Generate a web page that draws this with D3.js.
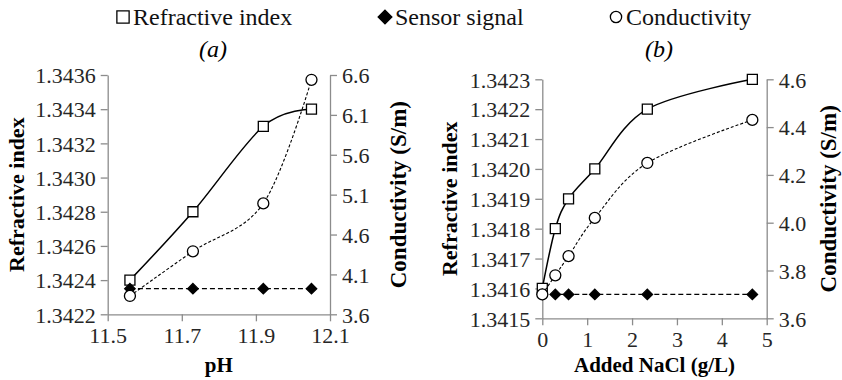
<!DOCTYPE html>
<html>
<head>
<meta charset="utf-8">
<script src="https://cdn.jsdelivr.net/npm/d3@7"></script>
<style>
  html, body { margin: 0; padding: 0; background: #fff; }
  #figure text { font-family: "Times New Roman", "Liberation Serif", serif !important; }
</style>
</head>
<body>
<svg id="figure" width="842" height="380" font-family="Times New Roman, Liberation Serif, serif"></svg>
<script>
// Panel (a): effect of pH
const phValues = [11.56, 11.73, 11.92, 12.05];
const phRefractive = [1.3424, 1.3428, 1.3433, 1.3434];
const phSensor = [1.34235, 1.34235, 1.34235, 1.34235];
const phConductivity = [3.83, 4.39, 4.99, 6.54];
const phTicks = [11.5, 11.7, 11.9, 12.1];
const phRiTicks = [1.3422, 1.3424, 1.3426, 1.3428, 1.3430, 1.3432, 1.3434, 1.3436];
const phCondTicks = [3.6, 4.1, 4.6, 5.1, 5.6, 6.1, 6.6];

// Panel (b): effect of added NaCl
const naclValues = [0, 0.29, 0.585, 1.17, 2.34, 4.68];
const naclRefractive = [1.3416, 1.3418, 1.3419, 1.3420, 1.3422, 1.3423];
const naclSensor = [1.34158, 1.34158, 1.34158, 1.34158, 1.34158, 1.34158];
const naclConductivity = [3.70, 3.78, 3.86, 4.02, 4.25, 4.43];
const naclTicks = [0, 1, 2, 3, 4, 5];
const naclRiTicks = [1.3415, 1.3416, 1.3417, 1.3418, 1.3419, 1.3420, 1.3421, 1.3422, 1.3423];
const naclCondTicks = [3.6, 3.8, 4.0, 4.2, 4.4, 4.6];

const seriesNames = ["Refractive index", "Sensor signal", "Conductivity"];

const FONT = "Times New Roman";
const AXIS_GREY = "#8c8c8c";

const svg = d3.select("#figure");
const smooth = d3.curveCardinal.tension(0);

function symbolPath(kind, size) {
  if (kind === "square") return d3.symbol(d3.symbolSquare, size)();
  if (kind === "diamond") return d3.symbol(d3.symbolDiamond2, size)();
  return d3.symbol(d3.symbolCircle, size)();
}

function styleAxis(sel, dy) {
  sel.attr("font-family", FONT).attr("font-size", 22);
  sel.selectAll(".domain").attr("stroke", AXIS_GREY).attr("stroke-width", 1.3);
  sel.selectAll(".tick line").attr("stroke", AXIS_GREY).attr("stroke-width", 1.3);
  sel.selectAll(".tick text").attr("fill", "#262626").attr("dy", dy)
    .attr("font-family", FONT).attr("font-size", 22);
}

function addText(parent, size, weight, styleName) {
  return parent.append("text")
    .attr("font-family", FONT)
    .attr("font-size", size)
    .attr("font-weight", weight || "normal")
    .attr("font-style", styleName || "normal");
}

function drawPanel(cfg) {
  const g = svg.append("g");
  const x = d3.scaleLinear().domain(cfg.xDomain).range([cfg.left, cfg.right]);
  const yL = d3.scaleLinear().domain(cfg.riDomain).range([cfg.bottom, cfg.top]);
  const yR = d3.scaleLinear().domain(cfg.condDomain).range([cfg.bottom, cfg.top]);

  // axes
  g.append("g")
    .attr("transform", `translate(0,${cfg.bottom})`)
    .call(d3.axisBottom(x).tickValues(cfg.xTicks).tickSize(7).tickSizeOuter(0)
      .tickPadding(6).tickFormat(cfg.xFormat))
    .call(styleAxis, "0.71em");
  g.append("g")
    .attr("transform", `translate(${cfg.left},0)`)
    .call(d3.axisLeft(yL).tickValues(cfg.riTicks).tickSize(7).tickSizeOuter(0)
      .tickPadding(5).tickFormat(d3.format(".4f")))
    .call(styleAxis, "0.35em");
  g.append("g")
    .attr("transform", `translate(${cfg.right},0)`)
    .call(d3.axisRight(yR).tickValues(cfg.condTicks).tickSize(7).tickSizeOuter(0)
      .tickPadding(5).tickFormat(d3.format(".1f")))
    .call(styleAxis, "0.35em");

  // axis titles
  addText(g, 21, "bold").attr("x", (cfg.left + cfg.right) / 2).attr("y", 372)
    .attr("text-anchor", "middle").text(cfg.xTitle);
  addText(g, 22, "bold")
    .attr("transform", `translate(${cfg.leftTitleX},${(cfg.top + cfg.bottom) / 2}) rotate(-90)`)
    .attr("text-anchor", "middle").text("Refractive index");
  addText(g, 23, "bold")
    .attr("transform", `translate(${cfg.rightTitleX},${(cfg.top + cfg.bottom) / 2}) rotate(-90)`)
    .attr("text-anchor", "middle").text("Conductivity (S/m)");

  // panel label
  addText(g, 24, "normal", "italic").attr("x", cfg.labelX).attr("y", 57)
    .attr("text-anchor", "middle").text(cfg.label);

  const series = [
    { ys: cfg.ri, scale: yL, dash: null, width: 1.5, kind: "square", fill: "#fff", size: 100 },
    { ys: cfg.sensor, scale: yL, dash: "5,3", width: 1.2, kind: "diamond", fill: "#000", size: 70 },
    { ys: cfg.cond, scale: yR, dash: "3,2", width: 1.1, kind: "circle", fill: "#fff", size: 95 }
  ];
  series.forEach(s => {
    const pts = cfg.xs.map((v, i) => [x(v), s.scale(s.ys[i])]);
    g.append("path")
      .attr("d", d3.line().curve(s.kind === "diamond" ? d3.curveLinear : smooth)(pts))
      .attr("fill", "none").attr("stroke", "#000").attr("stroke-width", s.width)
      .attr("stroke-dasharray", s.dash);
    g.selectAll(null).data(pts).join("path")
      .attr("transform", d => `translate(${d[0]},${d[1]})`)
      .attr("d", symbolPath(s.kind, s.size))
      .attr("fill", s.fill).attr("stroke", "#000").attr("stroke-width", 1.3);
  });
}

drawPanel({
  xs: phValues, ri: phRefractive, sensor: phSensor, cond: phConductivity,
  xDomain: [11.5, 12.1], riDomain: [1.3422, 1.3436], condDomain: [3.6, 6.6],
  xTicks: phTicks, riTicks: phRiTicks, condTicks: phCondTicks,
  xFormat: d3.format(".1f"),
  left: 107.7, right: 330, top: 75, bottom: 314.3,
  leftTitleX: 24, rightTitleX: 406, labelX: 213, label: "(a)", xTitle: "pH"
});

drawPanel({
  xs: naclValues, ri: naclRefractive, sensor: naclSensor, cond: naclConductivity,
  xDomain: [0, 5], riDomain: [1.3415, 1.3423], condDomain: [3.6, 4.6],
  xTicks: naclTicks, riTicks: naclRiTicks, condTicks: naclCondTicks,
  xFormat: d3.format("d"),
  left: 542.3, right: 766.7, top: 79.3, bottom: 318.3,
  leftTitleX: 457, rightTitleX: 836, labelX: 659, label: "(b)", xTitle: "Added NaCl (g/L)"
});

// legend
const legend = svg.append("g");
const legendItems = [
  { name: seriesNames[0], kind: "square", fill: "#fff", size: 150, mx: 123, tx: 133 },
  { name: seriesNames[1], kind: "diamond", fill: "#000", size: 120, mx: 385, tx: 395 },
  { name: seriesNames[2], kind: "circle", fill: "#fff", size: 100, mx: 616, tx: 626 }
];
legendItems.forEach(d => {
  legend.append("path")
    .attr("transform", `translate(${d.mx},17)`)
    .attr("d", symbolPath(d.kind, d.size))
    .attr("fill", d.fill).attr("stroke", "#000").attr("stroke-width", 1.3);
  addText(legend, 24).attr("x", d.tx).attr("y", 25).attr("fill", "#111").text(d.name);
});
</script>
</body>
</html>
